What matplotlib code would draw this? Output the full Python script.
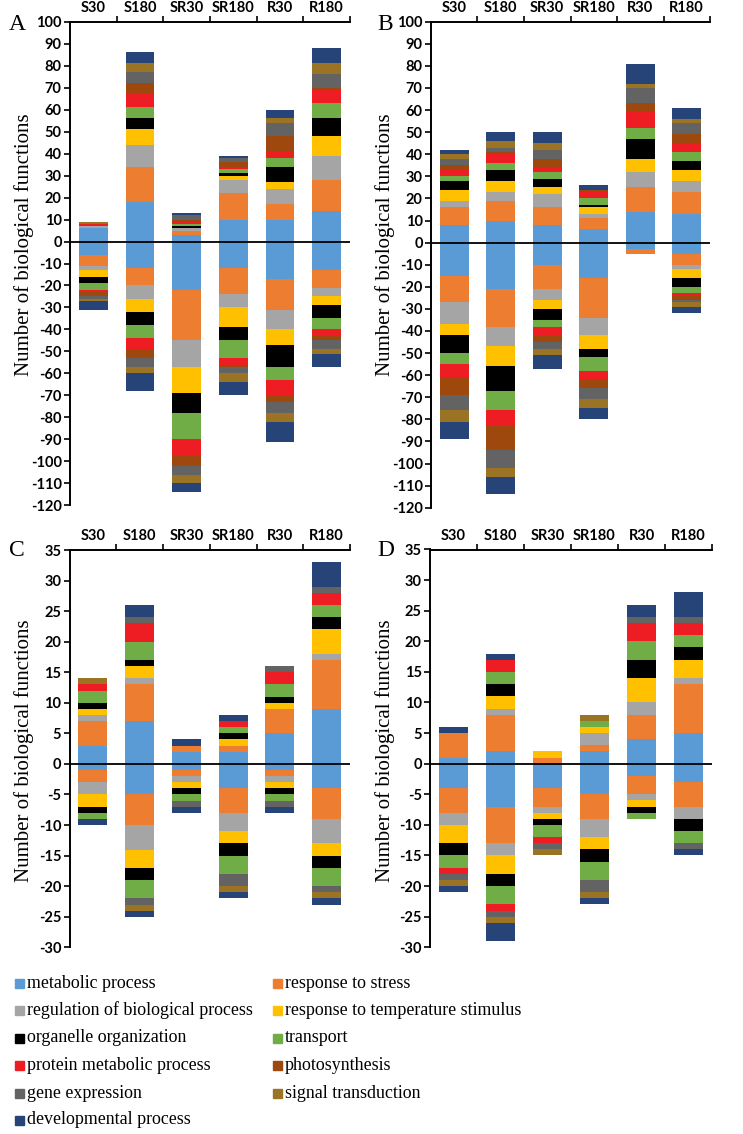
import matplotlib
matplotlib.use("Agg")
import matplotlib.pyplot as plt
import numpy as np

# categories along the top axis
groups = ["S30", "S180", "SR30", "SR180", "R30", "R180"]

# biological function classes (stack order from zero outward)
functions = ["metabolic process", "response to stress",
             "regulation of biological process", "response to temperature stimulus",
             "organelle organization", "transport",
             "protein metabolic process", "photosynthesis",
             "gene expression", "signal transduction",
             "developmental process"]
colors = ["#5B9BD5", "#ED7D31", "#A5A5A5", "#FFC000", "#000000", "#70AD47",
          "#EE1D23", "#9E480E", "#636363", "#9A7424", "#264478"]

# one row per function, one value per group (S30 .. R180)
a_pos = [[6, 18, 3, 10, 10, 14],
         [0, 16, 2, 12, 7, 14],
         [1, 10, 1, 6, 7, 11],
         [0, 7, 0, 2, 3, 9],
         [0, 5, 1, 1, 7, 8],
         [0, 5, 1, 2, 4, 7],
         [1, 6, 1, 1, 3, 6],
         [0, 5, 1, 2, 7, 1],
         [0, 5, 2, 2, 6, 6],
         [1, 4, 0, 0, 2, 5],
         [0, 5, 1, 1, 4, 7]]
a_neg = [[6, 12, 22, 12, 17, 13],
         [5, 8, 23, 12, 14, 8],
         [2, 6, 12, 6, 9, 4],
         [3, 6, 12, 9, 7, 4],
         [3, 6, 9, 6, 10, 6],
         [3, 6, 12, 8, 6, 5],
         [1, 5, 7, 3, 7, 3],
         [2, 4, 5, 1, 3, 2],
         [1, 4, 4, 3, 5, 4],
         [1, 3, 4, 4, 4, 2],
         [4, 8, 4, 6, 9, 6]]

b_pos = [[8, 10, 8, 6, 14, 13],
         [8, 9, 8, 5, 11, 10],
         [3, 4, 6, 2, 7, 5],
         [5, 5, 3, 3, 6, 5],
         [4, 5, 4, 1, 9, 4],
         [2, 3, 3, 3, 5, 4],
         [3, 4, 2, 3, 7, 4],
         [2, 1, 4, 1, 4, 4],
         [3, 2, 4, 0, 7, 5],
         [2, 3, 3, 0, 2, 2],
         [2, 4, 5, 2, 9, 5]]
b_neg = [[15, 21, 10, 16, 3, 5],
         [12, 17, 11, 18, 2, 5],
         [10, 9, 5, 8, 0, 2],
         [5, 9, 4, 6, 0, 4],
         [8, 11, 5, 4, 0, 4],
         [5, 9, 3, 6, 0, 3],
         [6, 7, 4, 4, 0, 1],
         [8, 11, 3, 4, 0, 2],
         [7, 8, 3, 5, 0, 1],
         [5, 4, 3, 4, 0, 2],
         [8, 8, 6, 5, 0, 3]]

c_pos = [[3, 7, 2, 2, 5, 9],
         [4, 6, 1, 1, 4, 8],
         [1, 1, 0, 0, 0, 1],
         [1, 2, 0, 1, 1, 4],
         [1, 1, 0, 1, 1, 2],
         [2, 3, 0, 1, 2, 2],
         [1, 3, 0, 1, 2, 2],
         [0, 0, 0, 0, 0, 0],
         [0, 1, 0, 0, 1, 1],
         [1, 0, 0, 0, 0, 0],
         [0, 2, 1, 1, 0, 4]]
c_neg = [[1, 5, 1, 4, 1, 4],
         [2, 5, 1, 4, 1, 5],
         [2, 4, 1, 3, 1, 4],
         [2, 3, 1, 2, 1, 2],
         [1, 2, 1, 2, 1, 2],
         [1, 3, 1, 3, 1, 3],
         [0, 0, 0, 0, 0, 0],
         [0, 0, 0, 0, 0, 0],
         [0, 1, 1, 2, 1, 1],
         [0, 1, 0, 1, 0, 1],
         [1, 1, 1, 1, 1, 1]]

d_pos = [[1, 2, 0, 2, 4, 5],
         [4, 6, 1, 1, 4, 8],
         [0, 1, 0, 2, 2, 1],
         [0, 2, 1, 1, 4, 3],
         [0, 2, 0, 0, 3, 2],
         [0, 2, 0, 1, 3, 2],
         [0, 2, 0, 0, 3, 2],
         [0, 0, 0, 0, 0, 0],
         [0, 0, 0, 0, 1, 1],
         [0, 0, 0, 1, 0, 0],
         [1, 1, 0, 0, 2, 4]]
d_neg = [[4, 7, 4, 5, 2, 3],
         [4, 6, 3, 4, 3, 4],
         [2, 2, 1, 3, 1, 2],
         [3, 3, 1, 2, 1, 0],
         [2, 2, 1, 2, 1, 2],
         [2, 3, 2, 3, 1, 2],
         [1, 1, 1, 0, 0, 0],
         [0, 0, 0, 0, 0, 0],
         [1, 1, 1, 2, 0, 1],
         [1, 1, 1, 1, 0, 0],
         [1, 3, 0, 1, 0, 1]]

W, H = 743, 1134
fig = plt.figure(figsize=(W / 100, H / 100), dpi=100)

tick_font = dict(family="Lato", weight="bold", size=10.5)
serif = ["Liberation Serif", "DejaVu Serif"]


def px_axes(left, right, top, bottom):
    return fig.add_axes([left / W, 1 - bottom / H, (right - left) / W, (bottom - top) / H])


def panel(ax, pos, neg, ylo, yhi, step, letter, lx, ly):
    x = np.arange(len(groups))
    pos = np.array(pos)
    neg = np.array(neg)
    bot = np.zeros(len(groups))
    for i in range(len(functions)):
        ax.bar(x, pos[i], 0.62, bottom=bot, color=colors[i], linewidth=0)
        bot += pos[i]
    bot = np.zeros(len(groups))
    for i in range(len(functions)):
        ax.bar(x, -neg[i], 0.62, bottom=bot, color=colors[i], linewidth=0)
        bot -= neg[i]
    ax.set_xlim(-0.5, 5.5)
    ax.set_ylim(ylo, yhi)
    ax.axhline(0, color="black", lw=1.3, zorder=5)
    for s in ["right", "bottom"]:
        ax.spines[s].set_visible(False)
    ax.spines["top"].set_linewidth(1.4)
    ax.spines["left"].set_linewidth(1.4)
    ax.xaxis.tick_top()
    ax.set_xticks(np.arange(0.5, 6, 1))
    ax.set_xticklabels([])
    ax.set_xticks(x, minor=True)
    ax.set_xticklabels(groups, minor=True, **tick_font)
    ax.tick_params(axis="x", which="major", direction="out", length=4, width=1.2)
    ax.tick_params(axis="x", which="minor", length=0, pad=5)
    ax.set_yticks(np.arange(ylo, yhi + 1, step))
    ax.set_yticklabels([str(v) for v in np.arange(ylo, yhi + 1, step)], **tick_font)
    ax.tick_params(axis="y", direction="out", length=4, width=1.2, pad=2)
    fig.text(lx / W, 1 - ly / H, letter, family=serif, size=17, ha="left", va="center")


ax_a = px_axes(70, 350, 21.7, 505.3)
panel(ax_a, a_pos, a_neg, -120, 100, 10, "A", 9, 25)
ax_b = px_axes(431, 710, 21.7, 507.7)
panel(ax_b, b_pos, b_neg, -120, 100, 10, "B", 377, 25)
ax_c = px_axes(69.5, 350, 550, 947.3)
panel(ax_c, c_pos, c_neg, -30, 35, 5, "C", 9, 550)
ax_d = px_axes(430, 712, 549.5, 947.3)
panel(ax_d, d_pos, d_neg, -30, 35, 5, "D", 377, 550)

# y labels
for xpx, ypx in [(24, 245), (385, 245), (24, 751), (385, 751)]:
    fig.text(xpx / W, 1 - ypx / H, "Number of biological functions", family=serif,
             size=15, rotation=90, ha="center", va="center")

# legend drawn as two columns of squares + labels
rows = [983, 1010.5, 1038, 1065.5, 1093, 1120]
for i, name in enumerate(functions):
    col, row = i % 2, i // 2
    sx = 15 if col == 0 else 273
    y = rows[row]
    fig.patches.append(plt.Rectangle((sx / W, 1 - (y + 4.5) / H), 9 / W, 9 / H,
                                     transform=fig.transFigure, color=colors[i],
                                     figure=fig))
    fig.text((sx + 12) / W, 1 - y / H, name, family=serif, size=12.9,
             ha="left", va="center")

fig.savefig("out.png", dpi=100)
